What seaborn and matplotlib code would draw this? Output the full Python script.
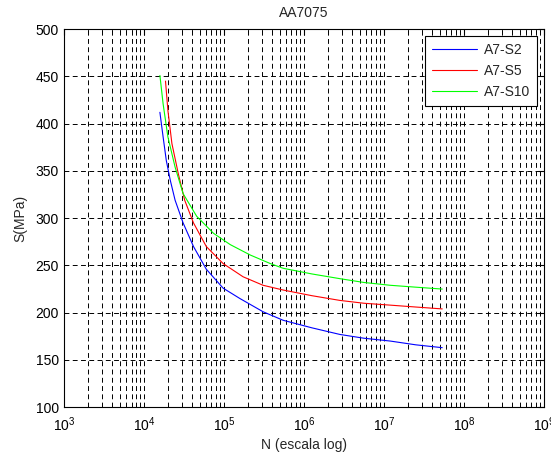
import numpy as np
import pandas as pd
import matplotlib
matplotlib.use("Agg")
import matplotlib.pyplot as plt
import seaborn as sns
from matplotlib.ticker import LogLocator, NullFormatter

# values (log10 N, S in MPa)
logn_s2 = [4.20, 4.24, 4.28, 4.33, 4.39, 4.49, 4.62, 4.78, 4.99, 5.20,
           5.49, 5.74, 6.10, 6.45, 6.75, 7.08, 7.40, 7.73]
s_s2 = [412, 386, 361, 340, 319, 295, 270, 246, 226, 215,
        201, 192, 184, 177, 173, 170, 166, 163]

logn_s5 = [4.27, 4.30, 4.35, 4.43, 4.51, 4.62, 4.78, 4.99, 5.24,
           5.49, 5.74, 6.10, 6.45, 6.75, 7.08, 7.40, 7.73]
s_s5 = [445, 414, 379, 347, 319, 295, 270, 252, 238,
        229, 224, 218, 213, 210, 208, 206, 204]

logn_s10 = [4.20, 4.24, 4.30, 4.39, 4.49, 4.66, 4.87, 5.08, 5.33,
            5.58, 5.74, 6.10, 6.45, 6.75, 7.08, 7.40, 7.73]
s_s10 = [451, 421, 386, 354, 326, 302, 284, 272, 261,
         252, 247, 241, 236, 232, 229, 227, 225]

series = ["A7-S2", "A7-S5", "A7-S10"]
colors = ["#0000ff", "#ff0000", "#00ff00"]

frames = []
for name, ln, s in zip(series, [logn_s2, logn_s5, logn_s10], [s_s2, s_s5, s_s10]):
    frames.append(pd.DataFrame({"N": 10 ** np.array(ln), "S": s, "serie": name}))
df = pd.concat(frames, ignore_index=True)

sns.set_style("white")
plt.rcParams["font.family"] = ["Liberation Sans", "DejaVu Sans"]
plt.rcParams["font.size"] = 10

fig = plt.figure(figsize=(5.51, 4.55), dpi=100)
ax = fig.add_axes([0.116, 0.105, 0.871, 0.831])

sns.lineplot(data=df, x="N", y="S", hue="serie", hue_order=series,
             palette=colors, linewidth=0.8, sort=False, ax=ax)

ax.set_xscale("log")
ax.set_xlim(1e3, 1e9)
ax.set_ylim(100, 500)
ax.set_yticks(np.arange(100, 501, 50))
ax.xaxis.set_major_locator(LogLocator(base=10, numticks=10))
ax.xaxis.set_minor_locator(LogLocator(base=10, subs=np.arange(2, 10), numticks=20))
ax.xaxis.set_minor_formatter(NullFormatter())

dash = (0, (5, 3.5))
ax.grid(True, which="major", axis="both", color="black", linestyle=dash, linewidth=0.7)
ax.grid(True, which="minor", axis="x", color="black", linestyle=dash, linewidth=0.7)
ax.tick_params(which="both", direction="in", top=True, right=True, colors="black", labelsize=10)
ax.tick_params(which="major", length=4)
ax.tick_params(which="minor", length=2)
ax.tick_params(axis="x", which="major", pad=6)
for sp in ax.spines.values():
    sp.set_color("black")
    sp.set_linewidth(0.8)

ax.set_title("AA7075", fontsize=10, pad=9)
ax.set_xlabel("N (escala log)", fontsize=10, labelpad=3)
ax.set_ylabel("S(MPa)", fontsize=10, labelpad=6)

leg = ax.legend(loc="upper right", frameon=True, fancybox=False, fontsize=10,
                handlelength=3.2, handletextpad=0.5, borderaxespad=0.5,
                labelspacing=0.5, borderpad=0.5)
leg.get_frame().set_edgecolor("black")
leg.get_frame().set_linewidth(0.8)
leg.get_frame().set_alpha(1)

fig.savefig("out.png", dpi=100, facecolor="white")
